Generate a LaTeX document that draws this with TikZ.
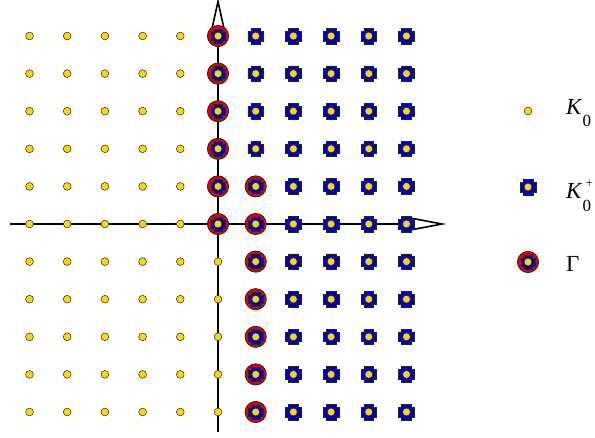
\documentclass[tikz,border=0pt]{standalone}
\usepackage{fontspec}
\setmainfont{Liberation Serif}
\definecolor{ky}{RGB}{255,215,0}
\definecolor{kb}{RGB}{0,0,190}
\definecolor{kr}{RGB}{228,0,0}
\newcommand{\mycrosspath}[2]{(-#2,-#1) -- (#2,-#1) -- (#2,-#2) -- (#1,-#2) -- (#1,#2) -- (#2,#2) -- (#2,#1) -- (-#2,#1) -- (-#2,#2) -- (-#1,#2) -- (-#1,-#2) -- (-#2,-#2) -- cycle}
\tikzset{
  axisline/.style={line width=1.8pt,black},
  arrowhd/.style={line width=1.6pt,draw=black,fill=white,line join=miter},
  outl/.style={draw=black!85,line width=0.6pt},
  legtext/.style={anchor=base west,inner sep=0pt,font=\fontsize{23}{27}\selectfont},
  pics/kzero/.style={code={\filldraw[outl,fill=ky,line width=0.5pt] (0,0) circle (3.9);}},
  pics/kplus/.style={code={\filldraw[outl,fill=kb] \mycrosspath{7.8}{4.9};
      \filldraw[outl,fill=ky,line width=0.5pt] (0,0) circle (3.9);}},
  pics/gam/.style={code={\filldraw[draw=black!85,line width=0.8pt,fill=kr] (0,0) circle (10.6);
      \filldraw[outl,fill=kb,line width=0.5pt] \mycrosspath{7.1}{4.2};
      \filldraw[outl,fill=ky,line width=0.5pt] (0,0) circle (3.9);}}
}
\begin{document}
\begin{tikzpicture}[x=1pt,y=-1pt]
\useasboundingbox (0,0) rectangle (595,437);
% axes
\coordinate (hL) at (10,224);
\coordinate (hB) at (405,224);
\coordinate (hT) at (442,224);
\coordinate (vL) at (218,432);
\coordinate (vB) at (218,33);
\coordinate (vT) at (218,1.5);
\draw[axisline] (hL) -- (hB);
\draw[axisline] (vL) -- (vB);
\filldraw[arrowhd] ([yshift=-7pt]hB) -- (hT) -- ([yshift=7pt]hB) -- cycle;
\filldraw[arrowhd] ([xshift=-7pt]vB) -- (vT) -- ([xshift=7pt]vB) -- cycle;
% lattice
\foreach \i in {-5,...,5} {
  \foreach \j in {-5,...,5} {
    \pgfmathsetmacro\px{218+37.7*\i}
    \pgfmathsetmacro\py{224-37.6*\j}
    \pgfmathtruncatemacro\t{((\i==0) && (\j>=0)) || ((\i==1) && (\j<=1)) ? 2 : (\i>=1 ? 1 : 0)}
    \ifcase\t
      \pic (p\i\j) at (\px,\py) {kzero};
    \or
      \pic (p\i\j) at (\px,\py) {kplus};
    \or
      \pic (p\i\j) at (\px,\py) {gam};
    \fi
  }
}
% legend
\pic (l1) at (528,111) {kzero};
\pic (l2) at (528,187) {kplus};
\pic (l3) at (528,262) {gam};
\node[legtext] (t1) at (566,114) {\textit{K}\raisebox{-12pt}{\fontsize{17}{20}\selectfont 0}};
\node[legtext] (t2) at (566,198) {\textit{K}\rlap{\kern3pt\raisebox{11pt}{\fontsize{13}{15}\selectfont +}}\raisebox{-13pt}{\fontsize{17}{20}\selectfont 0}};
\node[legtext] (t3) at (566,271) {Γ};
\end{tikzpicture}
\end{document}
